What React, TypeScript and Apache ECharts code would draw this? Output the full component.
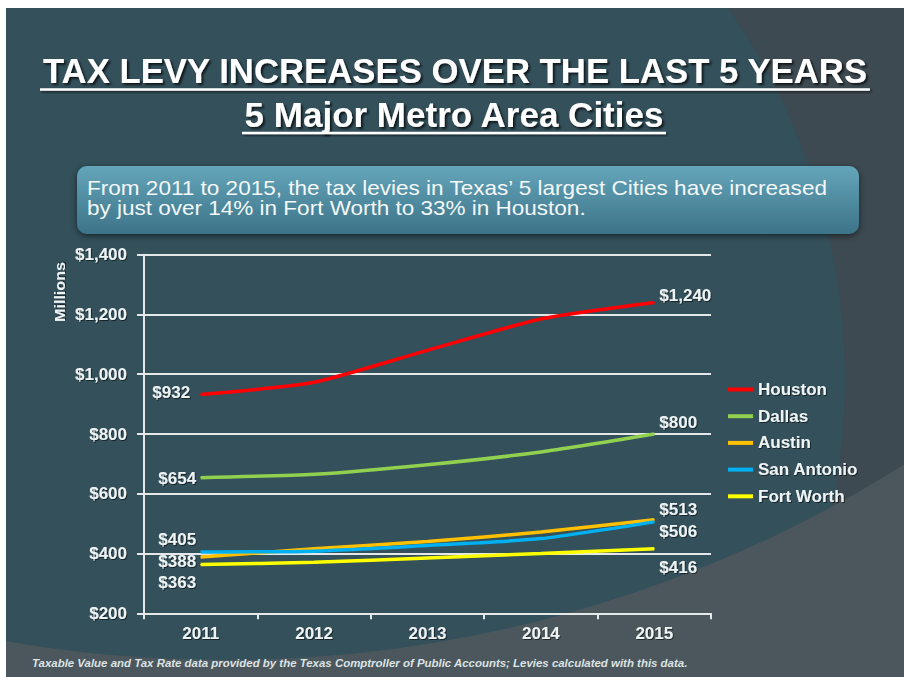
import React, { useEffect, useRef } from "react";
import * as echarts from "echarts";

// ---------- data ----------
const years = ["2011", "2012", "2013", "2014", "2015"];
const cities = ["Houston", "Dallas", "Austin", "San Antonio", "Fort Worth"];
const houston = [932, 973, 1080, 1185, 1240];
const dallas = [654, 665, 697, 740, 800];
const austin = [388, 416, 440, 472, 513];
const sanAntonio = [405, 408, 427, 450, 506];
const fortWorth = [363, 371, 385, 400, 416];
const seriesValues = [houston, dallas, austin, sanAntonio, fortWorth];
const yMin = 200;
const yMax = 1400;
const yStep = 200;

const titleLine1 = "TAX LEVY INCREASES OVER THE LAST 5 YEARS";
const titleLine2 = "5 Major Metro Area Cities";
const calloutLine1 = "From 2011 to 2015, the tax levies in Texas\u2019 5 largest Cities have increased";
const calloutLine2 = "by just over 14% in Fort Worth to 33% in Houston.";
const footnote = "Taxable Value and Tax Rate data provided by the Texas Comptroller of Public Accounts; Levies calculated with this data.";
const yAxisTitle = "Millions";

// ---------- style ----------
const colors = ["#ff0000", "#92d050", "#ffc000", "#00b0f0", "#ffff00"];
const startLabelDy = [-2, 1, 4, -13, 18];
const startLabelDist = [10, 4, 4, 4, 4];
const endLabelDy = [-7, -11.5, -10, 10, 18.5];
const FONT = "'Liberation Sans', Arial, sans-serif";
const textLight = "#eef3f4";
const gridColor = "#e4e8e9";

const money = (v: number) => "$" + Number(v).toLocaleString("en-US");

function measure(text: string, font: string): number {
  const ctx = document.createElement("canvas").getContext("2d");
  if (!ctx) return 1;
  ctx.font = font;
  return ctx.measureText(text).width || 1;
}

function fitScale(text: string, size: number, weight: string, style: string, target: number) {
  const w = measure(text, `${style} ${weight} ${size}px 'Liberation Sans'`);
  return target / w;
}

const shadowText = {
  textShadowColor: "rgba(0,0,0,0.55)",
  textShadowBlur: 1,
  textShadowOffsetX: 1,
  textShadowOffsetY: 1,
};

export default function App() {
  const ref = useRef<HTMLDivElement>(null);

  useEffect(() => {
    if (!ref.current) return;
    const chart = echarts.init(ref.current, undefined, { renderer: "svg" });

    const t1Scale = fitScale(titleLine1, 35, "bold", "normal", 826);
    const t2Scale = fitScale(titleLine2, 35, "bold", "normal", 420);
    const c1Scale = fitScale(calloutLine1, 20, "normal", "normal", 742);
    const c2Scale = fitScale(calloutLine2, 20, "normal", "normal", 499);
    const fnScale = fitScale(footnote, 11, "bold", "italic", 656);
    const mScale = fitScale(yAxisTitle, 14, "bold", "normal", 60);

    const titleStyle = {
      fill: "#ffffff",
      fontSize: 35,
      fontWeight: "bold",
      fontFamily: FONT,
      align: "center",
      verticalAlign: "middle",
      textShadowColor: "rgba(0,0,0,0.7)",
      textShadowBlur: 2,
      textShadowOffsetX: 2,
      textShadowOffsetY: 2,
    };

    const underlineStyle = {
      fill: "#ffffff",
      shadowColor: "rgba(0,0,0,0.6)",
      shadowBlur: 2,
      shadowOffsetX: 1.5,
      shadowOffsetY: 1.5,
    };

    const graphic: any[] = [
      { type: "rect", z: -10, shape: { x: 0, y: 0, width: 904, height: 677 }, style: { fill: "#3d4a51" } },
      { type: "circle", z: -9, shape: { cx: 195, cy: 380, r: 650 }, style: { fill: "#33505b" } },
      { type: "ring", z: -8, shape: { cx: 225, cy: -617, r0: 1277, r: 3000 }, style: { fill: "#4b575c" } },
      {
        type: "rect",
        z: -5,
        shape: { x: 77, y: 166, width: 782, height: 68, r: 10 },
        style: {
          fill: {
            type: "linear", x: 0, y: 0, x2: 0, y2: 1,
            colorStops: [
              { offset: 0, color: "#64a5ba" },
              { offset: 1, color: "#3d7388" },
            ],
          },
          shadowBlur: 6,
          shadowColor: "rgba(0,0,0,0.55)",
          shadowOffsetY: 2,
        },
      },
      { type: "text", z: 5, x: 455, y: 70.5, scaleX: t1Scale, style: { ...titleStyle, text: titleLine1 } },
      { type: "text", z: 5, x: 454, y: 114.3, scaleX: t2Scale, style: { ...titleStyle, text: titleLine2 } },
      { type: "rect", z: 5, shape: { x: 455 - 415, y: 88.3, width: 830, height: 2.4 }, style: underlineStyle },
      { type: "rect", z: 5, shape: { x: 454 - 212, y: 131.8, width: 424, height: 2.4 }, style: underlineStyle },
      {
        type: "text", z: 5, x: 87, y: 188.5, scaleX: c1Scale,
        style: { text: calloutLine1, fill: "#f4f8f9", fontSize: 20, fontFamily: FONT, align: "left", verticalAlign: "middle" },
      },
      {
        type: "text", z: 5, x: 87, y: 208.5, scaleX: c2Scale,
        style: { text: calloutLine2, fill: "#f4f8f9", fontSize: 20, fontFamily: FONT, align: "left", verticalAlign: "middle" },
      },
      {
        type: "text", z: 5, x: 32, y: 663, scaleX: fnScale,
        style: { text: footnote, fill: "#dce3e5", fontSize: 11, fontStyle: "italic", fontWeight: "bold", fontFamily: FONT, align: "left", verticalAlign: "middle" },
      },
      {
        type: "text", z: 5, x: 60, y: 292, rotation: Math.PI / 2, scaleX: mScale,
        style: { text: yAxisTitle, fill: textLight, fontSize: 14, fontWeight: "bold", fontFamily: FONT, align: "center", verticalAlign: "middle", ...shadowText },
      },
      { type: "rect", z: 100, shape: { x: 0, y: 0, width: 904, height: 8 }, style: { fill: "#ffffff" } },
      { type: "rect", z: 100, shape: { x: 0, y: 0, width: 6, height: 677 }, style: { fill: "#ffffff" } },
    ];

    const labelBase = {
      show: false,
      color: textLight,
      fontSize: 17,
      fontWeight: "bold",
      fontFamily: FONT,
      formatter: (p: any) => money(p.value),
      ...shadowText,
    };

    const series = cities.map((name, si) => {
      const vals = seriesValues[si];
      return {
        name,
        type: "line",
        smooth: 0.2,
        symbol: "circle",
        symbolSize: 1,
        z: 3 + si,
        lineStyle: { width: 3.5, color: colors[si] },
        itemStyle: { color: colors[si] },
        emphasis: { disabled: true },
        label: labelBase,
        data: vals.map((v, i) => {
          if (i === 0) {
            return { value: v, label: { show: true, position: "left", distance: startLabelDist[si], offset: [0, startLabelDy[si]] } };
          }
          if (i === vals.length - 1) {
            return { value: v, label: { show: true, position: "right", distance: 4.5, offset: [0, endLabelDy[si]] } };
          }
          return { value: v };
        }),
      };
    });

    const axisText = {
      color: textLight,
      fontSize: 17,
      fontWeight: "bold",
      fontFamily: FONT,
      ...shadowText,
    };

    chart.setOption({
      animation: false,
      backgroundColor: "transparent",
      textStyle: { fontFamily: FONT },
      graphic,
      grid: { left: 144, right: 193, top: 254.7, bottom: 63.7 },
      legend: {
        data: cities,
        orient: "vertical",
        left: 728,
        top: 381,
        padding: 0,
        icon: "rect",
        itemWidth: 25,
        itemHeight: 4,
        itemGap: 9.7,
        selectedMode: false,
        textStyle: { ...axisText, lineHeight: 17 },
      },
      xAxis: {
        type: "category",
        data: years,
        boundaryGap: true,
        axisLine: { show: true, lineStyle: { color: gridColor, width: 2 } },
        axisTick: { show: true, length: 6, lineStyle: { color: gridColor, width: 2 } },
        axisLabel: { ...axisText, margin: 12 },
        splitLine: { show: false },
      },
      yAxis: {
        type: "value",
        min: yMin,
        max: yMax,
        interval: yStep,
        axisLine: { show: true, lineStyle: { color: gridColor, width: 2 } },
        axisTick: { show: true, length: 7, lineStyle: { color: gridColor, width: 2 } },
        axisLabel: { ...axisText, margin: 17, formatter: (v: number) => money(v) },
        splitLine: { show: true, lineStyle: { color: gridColor, width: 2 } },
      },
      series,
    } as any);

    return () => chart.dispose();
  }, []);

  return (
    <div
      ref={ref}
      style={{ position: "absolute", left: 0, top: 0, width: 904, height: 677 }}
    />
  );
}
